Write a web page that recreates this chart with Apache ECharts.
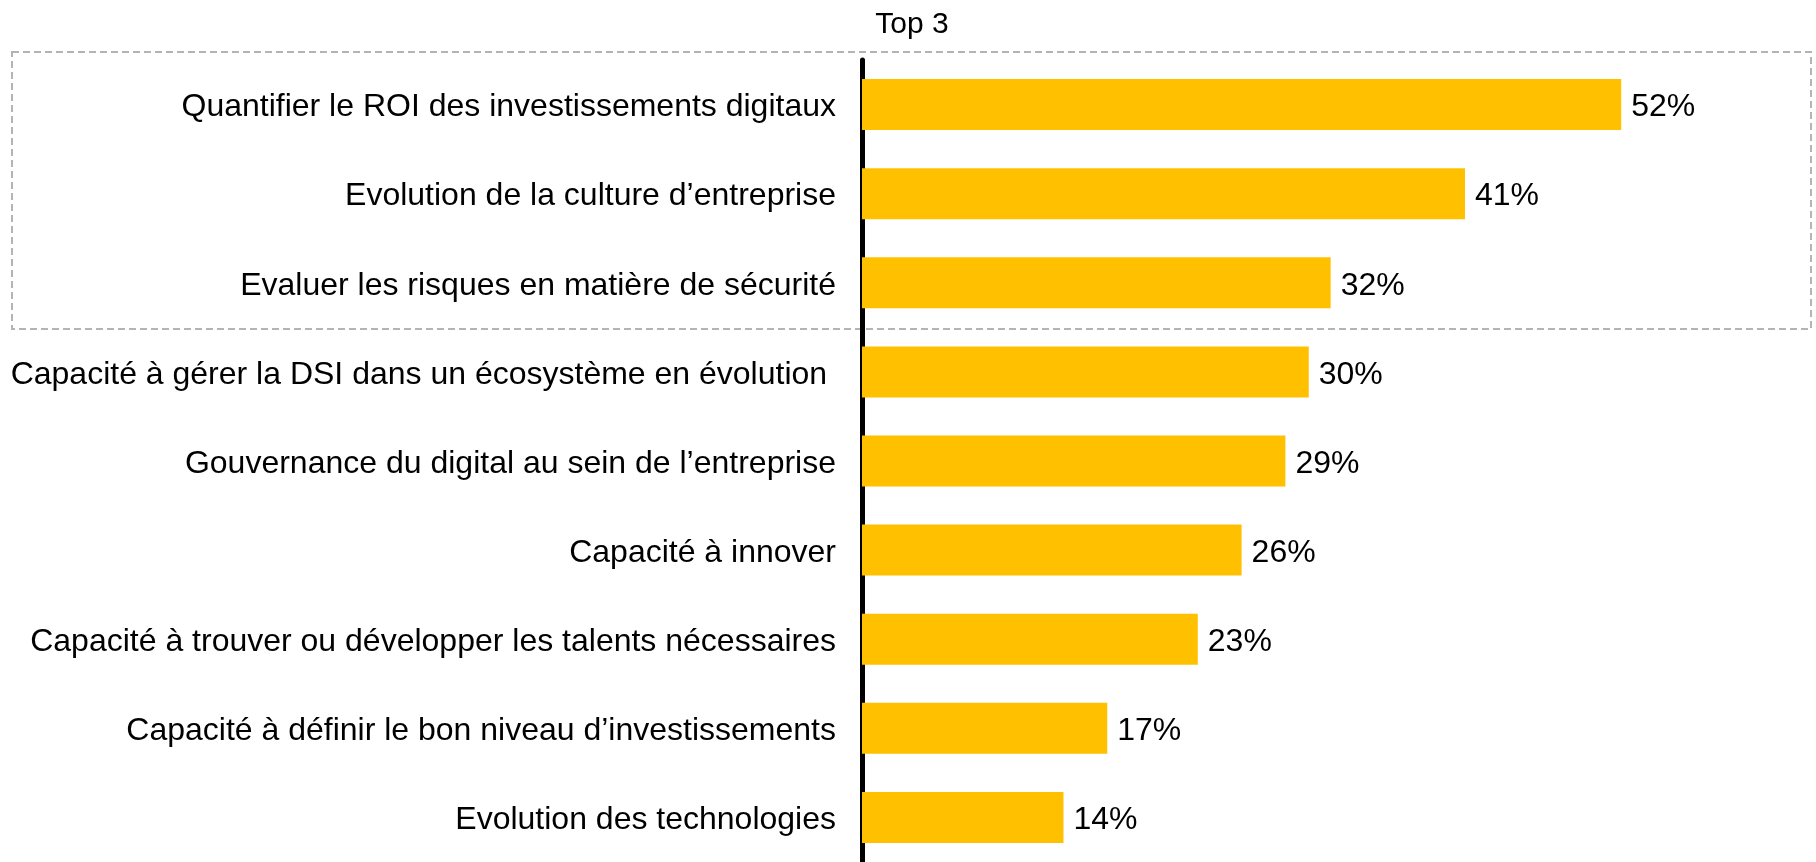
<!DOCTYPE html>
<html lang="fr">
<head>
<meta charset="utf-8" />
<title>Top 3</title>
<script src="https://cdn.jsdelivr.net/npm/echarts@6/dist/echarts.min.js"></script>
<style>
  html, body { margin: 0; padding: 0; background: #fff; }
  #chart { width: 1816px; height: 862px; }
</style>
</head>
<body>
<div id="chart"></div>
<script type="text/javascript">
// categories, top to bottom
var categories = [
  'Quantifier le ROI des investissements digitaux',
  'Evolution de la culture d\u2019entreprise',
  'Evaluer les risques en mati\u00e8re de s\u00e9curit\u00e9',
  'Capacit\u00e9 \u00e0 g\u00e9rer la DSI dans un \u00e9cosyst\u00e8me en \u00e9volution ',
  'Gouvernance du digital au sein de l\u2019entreprise',
  'Capacit\u00e9 \u00e0 innover',
  'Capacit\u00e9 \u00e0 trouver ou d\u00e9velopper les talents n\u00e9cessaires',
  'Capacit\u00e9 \u00e0 d\u00e9finir le bon niveau d\u2019investissements',
  'Evolution des technologies'
];
// bar lengths
var values = [52, 41.3, 32.1, 30.6, 29, 26, 23, 16.8, 13.8];
// labels as printed next to the bars
var valueLabels = ['52%', '41%', '32%', '30%', '29%', '26%', '23%', '17%', '14%'];
var titleText = 'Top 3';

var font = "'Liberation Sans', Arial, sans-serif";
var chart = echarts.init(document.getElementById('chart'));

var option = {
  backgroundColor: '#ffffff',
  animation: false,
  grid: { left: 862, top: 60, width: 876, height: 808 },
  xAxis: {
    type: 'value',
    min: 0,
    max: 60,
    show: false,
    splitLine: { show: false }
  },
  yAxis: {
    type: 'category',
    inverse: true,
    data: categories,
    axisLine: { show: true, lineStyle: { color: '#000', width: 5 } },
    axisTick: { show: false },
    axisLabel: {
      margin: 26,
      formatter: function (v) { return '{t|' + v + '}'; },
      rich: {
        t: {
          fontSize: 32,
          fontFamily: font,
          color: '#000',
          padding: [6, 0, 0, 0]
        }
      }
    }
  },
  series: [{
    type: 'bar',
    data: values,
    barWidth: 51,
    itemStyle: { color: '#FFC000' },
    label: {
      show: true,
      position: 'right',
      distance: 10,
      offset: [0, 3],
      formatter: function (p) { return valueLabels[p.dataIndex]; },
      fontSize: 32,
      fontFamily: font,
      color: '#000'
    },
    z: 1
  }],
  graphic: [
    {
      type: 'rect',
      shape: { x: 12, y: 52, width: 1799, height: 277 },
      style: { fill: 'none', stroke: '#b4b4b4', lineWidth: 2, lineDash: [7, 4] },
      z: -1
    },
    {
      type: 'text',
      x: 912,
      y: 25,
      style: {
        text: titleText,
        fontSize: 30,
        fontFamily: font,
        fill: '#000',
        align: 'center',
        verticalAlign: 'middle'
      }
    }
  ]
};

chart.setOption(option);
</script>
</body>
</html>
